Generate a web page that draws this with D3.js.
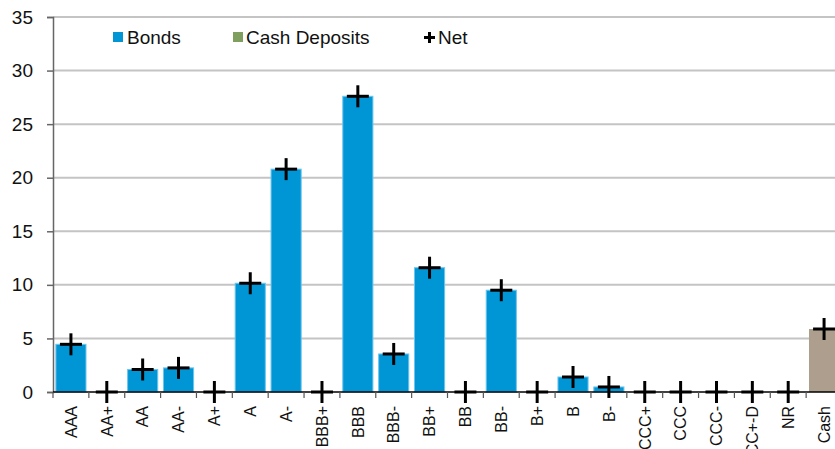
<!DOCTYPE html>
<html>
<head>
<meta charset="utf-8">
<script src="https://cdn.jsdelivr.net/npm/d3@7"></script>
<style>
  body { margin: 0; background: #fff; }
  svg { display: block; font-family: "Liberation Sans", Arial, sans-serif; }
</style>
</head>
<body>
<div id="chart"></div>
<script>
// Chart data
var categories = ["AAA", "AA+", "AA", "AA-", "A+", "A", "A-", "BBB+", "BBB", "BBB-", "BB+", "BB",
                  "BB-", "B+", "B", "B-", "CCC+", "CCC", "CCC-", "CCC+-D", "NR", "Cash"];
var bonds = [4.45, 0, 2.1, 2.25, 0, 10.15, 20.8, 0, 27.6, 3.55, 11.6, 0,
             9.5, 0, 1.4, 0.47, 0, 0, 0, 0, 0, 0];
var cashDeposits = [0, 0, 0, 0, 0, 0, 0, 0, 0, 0, 0, 0,
                    0, 0, 0, 0, 0, 0, 0, 0, 0, 5.88];
var net = [4.45, 0, 2.1, 2.25, 0, 10.15, 20.8, 0, 27.6, 3.55, 11.6, 0,
           9.5, 0, 1.4, 0.47, 0, 0, 0, 0, 0, 5.88];
var yTicks = [0, 5, 10, 15, 20, 25, 30, 35];

var svgWidth = 835;
var svgHeight = 449;

var svg = d3.select("#chart")
    .append("svg")
    .attr("width", svgWidth)
    .attr("height", svgHeight);

// Scales (plot runs past the right edge, like the original)
var x = d3.scaleBand()
    .domain(categories)
    .range([53, 842])
    .paddingInner(0.16)
    .paddingOuter(0.08);

var y = d3.scaleLinear()
    .domain([0, 35])
    .range([392, 17]);

var step = x.step();

// Gridlines
svg.append("g")
    .selectAll("line")
    .data(yTicks.slice(1))
    .enter()
    .append("line")
    .attr("x1", 53)
    .attr("x2", 842)
    .attr("y1", d => y(d))
    .attr("y2", d => y(d))
    .attr("stroke", "#c4c4c4")
    .attr("stroke-width", 2);

// Bonds bars
svg.append("g")
    .selectAll("rect")
    .data(categories)
    .enter()
    .append("rect")
    .attr("x", d => x(d))
    .attr("width", x.bandwidth())
    .attr("y", (d, i) => y(bonds[i]))
    .attr("height", (d, i) => y(0) - y(bonds[i]))
    .attr("fill", "#0096d6")
    .attr("stroke", "#6cc5ee")
    .attr("stroke-width", (d, i) => bonds[i] > 0 ? 1 : 0);

// Cash deposits bars
svg.append("g")
    .selectAll("rect")
    .data(categories)
    .enter()
    .append("rect")
    .attr("x", d => x(d))
    .attr("width", x.bandwidth())
    .attr("y", (d, i) => y(cashDeposits[i]))
    .attr("height", (d, i) => y(0) - y(cashDeposits[i]))
    .attr("fill", "#ad9e8e");

// Y axis
var leftAxis = d3.axisLeft(y)
    .tickValues(yTicks)
    .tickSize(6)
    .tickPadding(14)
    .tickFormat(d3.format("d"));

var yAxisG = svg.append("g")
    .attr("transform", "translate(53,0)")
    .call(leftAxis);
yAxisG.select(".domain").attr("stroke", "#666").attr("stroke-width", 1.5);
yAxisG.selectAll(".tick line").attr("stroke", "#666").attr("stroke-width", 1.5);
yAxisG.selectAll(".tick text")
    .attr("fill", "#111")
    .style("font-size", "19px")
    .style("font-family", "'Liberation Sans', Arial, sans-serif");

// X axis line and boundary ticks
svg.append("line")
    .attr("x1", 53)
    .attr("x2", 842)
    .attr("y1", y(0))
    .attr("y2", y(0))
    .attr("stroke", "#000")
    .attr("stroke-width", 1.5);

svg.append("g")
    .selectAll("line")
    .data(categories)
    .enter()
    .append("line")
    .attr("x1", d => x(d) + x.bandwidth() + (step - x.bandwidth()) / 2)
    .attr("x2", d => x(d) + x.bandwidth() + (step - x.bandwidth()) / 2)
    .attr("y1", y(0))
    .attr("y2", y(0) + 6)
    .attr("stroke", "#555")
    .attr("stroke-width", 1.2);

svg.append("line")
    .attr("x1", 53).attr("x2", 53)
    .attr("y1", y(0)).attr("y2", y(0) + 6)
    .attr("stroke", "#555")
    .attr("stroke-width", 1.2);

// X labels
svg.append("g")
    .selectAll("text")
    .data(categories)
    .enter()
    .append("text")
    .attr("transform", d => `translate(${x(d) + x.bandwidth() / 2}, 406) rotate(-90)`)
    .attr("text-anchor", "end")
    .attr("dy", "0.36em")
    .attr("fill", "#111")
    .style("font-size", "16px")
    .text(d => d);

// Net markers
var crossHalf = 11;
var netG = svg.append("g")
    .selectAll("g")
    .data(categories)
    .enter()
    .append("g")
    .attr("transform", (d, i) => `translate(${x(d) + x.bandwidth() / 2}, ${y(net[i])})`);
netG.append("line")
    .attr("x1", -crossHalf).attr("x2", crossHalf)
    .attr("y1", 0).attr("y2", 0)
    .attr("stroke", "#000").attr("stroke-width", 3);
netG.append("line")
    .attr("x1", 0).attr("x2", 0)
    .attr("y1", -crossHalf).attr("y2", crossHalf)
    .attr("stroke", "#000").attr("stroke-width", 3);

// Legend
var legend = svg.append("g").style("font-size", "19px").attr("fill", "#111");
legend.append("rect")
    .attr("x", 113).attr("y", 32).attr("width", 10).attr("height", 10)
    .attr("fill", "#0096d6");
legend.append("text")
    .attr("x", 127).attr("y", 44)
    .text("Bonds");
legend.append("rect")
    .attr("x", 233).attr("y", 32).attr("width", 10).attr("height", 10)
    .attr("fill", "#7f9f5f");
legend.append("text")
    .attr("x", 246).attr("y", 44)
    .text("Cash Deposits");
legend.append("line")
    .attr("x1", 424).attr("x2", 435).attr("y1", 37.5).attr("y2", 37.5)
    .attr("stroke", "#000").attr("stroke-width", 3);
legend.append("line")
    .attr("x1", 429.5).attr("x2", 429.5).attr("y1", 32).attr("y2", 43)
    .attr("stroke", "#000").attr("stroke-width", 3);
legend.append("text")
    .attr("x", 438).attr("y", 44)
    .text("Net");
</script>
</body>
</html>
